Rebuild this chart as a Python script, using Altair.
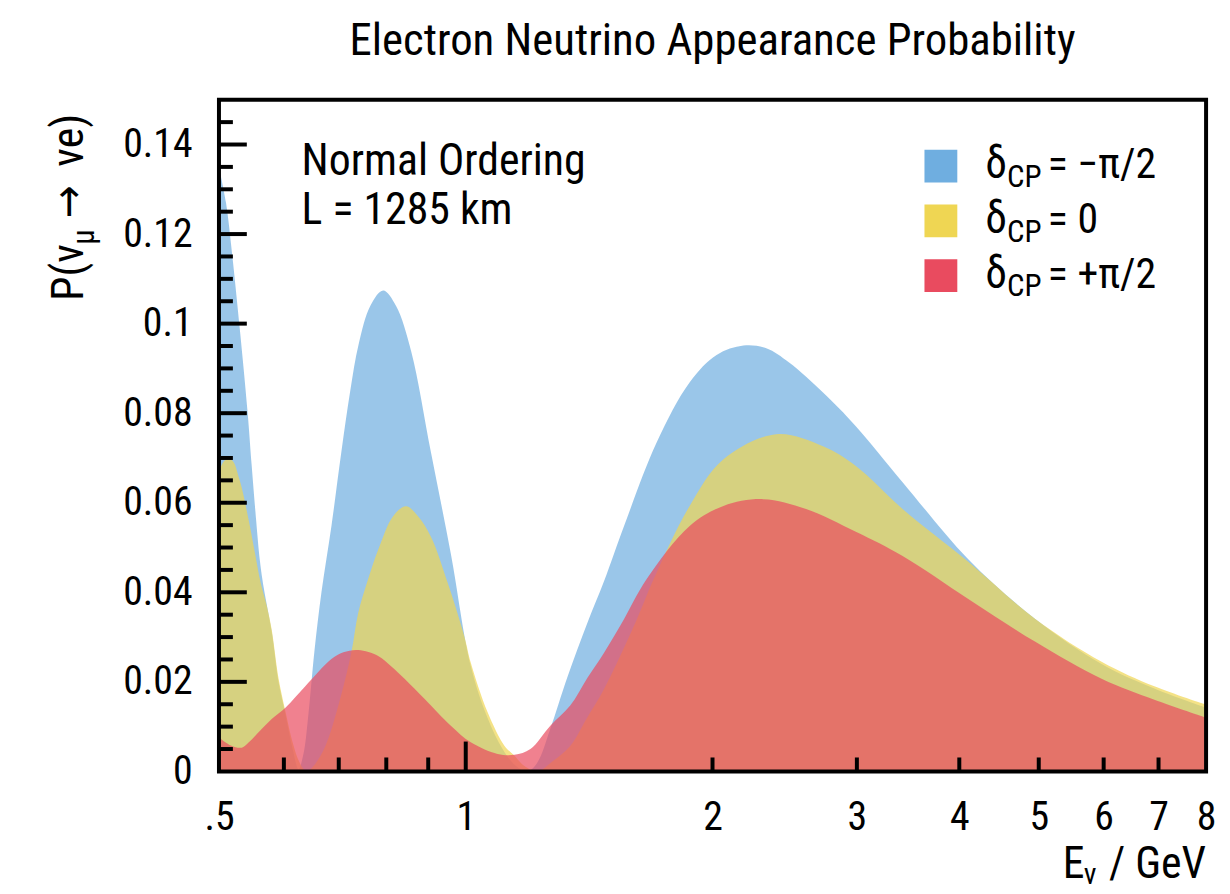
import altair as alt
import pandas as pd

# ---------------- data ----------------
series_names = ["δCP = −π/2", "δCP = 0", "δCP = +π/2"]
series_colors = ["#6FAEE0", "#EFD653", "#E94B5F"]

E_blue = [0.500, 0.510, 0.5185, 0.530, 0.542, 0.548, 0.5545, 0.561, 0.567, 0.580,
          0.591, 0.603, 0.615, 0.6253, 0.6341, 0.643, 0.6539, 0.6668, 0.686, 0.705,
          0.723, 0.740, 0.765, 0.793, 0.822, 0.858, 0.907, 0.959, 1.014, 1.063,
          1.109, 1.147, 1.189, 1.223, 1.268, 1.330, 1.406, 1.475, 1.560, 1.710,
          1.876, 2.023, 2.181, 2.326, 2.480, 2.728, 2.991, 3.411, 4.102, 4.947,
          5.965, 6.918, 8.0]
P_blue = [0.135, 0.127, 0.116, 0.099, 0.080, 0.0686, 0.057, 0.047, 0.041, 0.031,
          0.020, 0.0125, 0.005, 0.0005, 0.004, 0.013, 0.027, 0.040, 0.055, 0.0712,
          0.085, 0.0953, 0.104, 0.1074, 0.104, 0.0938, 0.0712, 0.0486, 0.0236, 0.012,
          0.005, 0.0015, 0.0, 0.002, 0.0095, 0.021, 0.033, 0.0425, 0.0548, 0.0735,
          0.0869, 0.093, 0.0951, 0.0945, 0.0913, 0.0846, 0.0771, 0.0646, 0.0474, 0.0341,
          0.0240, 0.0185, 0.0142]

E_yellow = [0.500, 0.5085, 0.5185, 0.530, 0.5437, 0.5529, 0.5623, 0.5718, 0.5798, 0.5913,
            0.603, 0.6149, 0.627, 0.6394, 0.6521, 0.6743, 0.6992, 0.7251, 0.7395, 0.7604,
            0.782, 0.8155, 0.8456, 0.8745, 0.9068, 0.951, 0.9972, 1.0141, 1.0634, 1.1152,
            1.1468, 1.1793, 1.2229, 1.2753, 1.3411, 1.4064, 1.4748, 1.6173, 1.696, 1.8757,
            2.0625, 2.3918, 2.7276, 2.9912, 3.4111, 4.1023, 4.9468, 5.9654, 6.9181, 8.0]
P_yellow = [0.067, 0.0695, 0.0695, 0.065, 0.056, 0.049, 0.042, 0.037, 0.0317, 0.0206,
            0.0132, 0.0065, 0.002, 0.0, 0.0012, 0.0057, 0.0147, 0.0265, 0.0355, 0.043,
            0.0495, 0.057, 0.0592, 0.057, 0.0524, 0.042, 0.0298, 0.0243, 0.0132, 0.0057,
            0.0035, 0.0012, 0.0, 0.0022, 0.0057, 0.012, 0.0184, 0.034, 0.043, 0.0593,
            0.0697, 0.0753, 0.0726, 0.0682, 0.0586, 0.0468, 0.0341, 0.0245, 0.019, 0.0149]

E_red = [0.500, 0.5171, 0.5332, 0.5437, 0.5607, 0.5798, 0.603, 0.6376, 0.6857, 0.7091,
         0.7395, 0.782, 0.8109, 0.8433, 0.8917, 0.959, 1.0141, 1.0936, 1.1468, 1.1992,
         1.2682, 1.3411, 1.4064, 1.4748, 1.5596, 1.6631, 1.8757, 2.0625, 2.3065, 2.6011,
         2.9912, 3.4111, 4.1023, 4.9468, 5.9654, 6.9181, 8.0]
P_red = [0.0076, 0.0058, 0.0053, 0.0065, 0.009, 0.0117, 0.0143, 0.0191, 0.0251, 0.0266,
         0.0271, 0.0258, 0.0235, 0.0206, 0.0161, 0.0102, 0.0065, 0.0039, 0.0037, 0.005,
         0.0102, 0.0147, 0.0208, 0.0265, 0.034, 0.043, 0.0548, 0.0593, 0.0608, 0.0586,
         0.0535, 0.0481, 0.0385, 0.029, 0.0207, 0.016, 0.012]

x_tick_values = [0.5, 1, 2, 3, 4, 5, 6, 7, 8]
y_tick_values = [0, 0.02, 0.04, 0.06, 0.08, 0.1, 0.12, 0.14]
x_major_ticks = [1]
x_minor_ticks = [0.6, 0.7, 0.8, 0.9, 2, 3, 4, 5, 6, 7]
y_major_ticks = [0.02, 0.04, 0.06, 0.08, 0.1, 0.12, 0.14]
y_minor_ticks = [0.005, 0.01, 0.015, 0.025, 0.03, 0.035, 0.045, 0.05, 0.055,
                 0.065, 0.07, 0.075, 0.085, 0.09, 0.095, 0.105, 0.11, 0.115,
                 0.125, 0.13, 0.135, 0.145]

title_text = "Electron Neutrino Appearance Probability"
note_lines = ["Normal Ordering", "L = 1285 km"]
legend_values = ["= −π/2", "= 0", "= +π/2"]

# ---------------- chart ----------------
W, H = 992, 675
FONT = "'Roboto Condensed', 'DejaVu Sans Condensed', 'Liberation Sans Narrow', sans-serif"

frames = []
for name, es, ps in zip(series_names, [E_blue, E_yellow, E_red], [P_blue, P_yellow, P_red]):
    frames.append(pd.DataFrame({"E": es, "P": ps, "series": name}))

xscale = alt.Scale(type="log", domain=[0.5, 8], nice=False)
yscale = alt.Scale(domain=[0, 0.15], nice=False, zero=True)

xaxis = alt.Axis(values=x_tick_values, ticks=False, tickSize=0, domain=False, grid=False,
                 labelExpr="datum.value < 1 ? '.5' : format(datum.value, 'd')",
                 labelFont=FONT, labelFontSize=40, labelColor="black", labelPadding=26,
                 labelOverlap=False, labelFlush=False, title=None)
yaxis = alt.Axis(values=y_tick_values, format="~g", ticks=False, tickSize=0, domain=False,
                 grid=False, labelFont=FONT, labelFontSize=40, labelColor="black",
                 labelPadding=27, title=None)

color = alt.Color("series:N", scale=alt.Scale(domain=series_names, range=series_colors),
                  legend=None)

layers = []
for df in frames:
    layers.append(
        alt.Chart(df).mark_area(opacity=0.7, interpolate="catmull-rom", clip=True).encode(
            x=alt.X("E:Q", scale=xscale, axis=xaxis),
            y=alt.Y("P:Q", scale=yscale, axis=yaxis, stack=None),
            color=color,
        )
    )

def yticks(vals, length):
    return alt.Chart(pd.DataFrame({"P": vals})).mark_rule(color="black", strokeWidth=4).encode(
        y=alt.Y("P:Q", scale=yscale, axis=yaxis), x=alt.value(0), x2=alt.value(length))

def xticks(vals, length):
    return alt.Chart(pd.DataFrame({"E": vals})).mark_rule(color="black", strokeWidth=4).encode(
        x=alt.X("E:Q", scale=xscale, axis=xaxis), y=alt.value(H), y2=alt.value(H - length))

layers += [yticks(y_major_ticks, 28), yticks(y_minor_ticks, 14),
           xticks(x_major_ticks, 30), xticks(x_minor_ticks, 14)]

one = pd.DataFrame({"a": [0]})

def txt(s, x, y, size, align="left", angle=0, baseline="alphabetic"):
    return alt.Chart(one).mark_text(font=FONT, fontSize=size, align=align, angle=angle,
                                    baseline=baseline, color="black").encode(
        x=alt.value(x), y=alt.value(y), text=alt.value(s))

# frame
layers.append(alt.Chart(one).mark_rect(filled=False, stroke="black", strokeWidth=4).encode(
    x=alt.value(0), x2=alt.value(W), y=alt.value(0), y2=alt.value(H)))

# title
layers.append(txt(title_text, W / 2, -45, 45, align="center"))
# annotation
layers.append(txt(note_lines[0], 83, 76, 44))
layers.append(txt(note_lines[1], 83, 125, 44))
# legend
for i, (c, v) in enumerate(zip(series_colors, legend_values)):
    yb = 78.7 + 55 * i
    layers.append(alt.Chart(one).mark_square(size=1089, filled=True, opacity=1, color=c).encode(
        x=alt.value(725.5), y=alt.value(yb - 12)))
    layers.append(txt("δ", 770, yb, 44))
    layers.append(txt("CP", 792, yb + 9, 31))
    layers.append(txt(v, 833, yb, 42))
# y title
layers.append(txt("P(ν", -137, 202, 44, angle=270))
layers.append(txt("μ", -126, 138, 31, align="center", angle=270))
layers.append(txt("→", -137, 119, 44, align="left", angle=270))
layers.append(txt("νe)", -137, 14, 44, align="right", angle=270))
# x title
layers.append(txt("E", 848, 782, 44))
layers.append(txt("ν", 869, 788, 30))
layers.append(txt("/ GeV", 992, 782, 44, align="right"))

chart = alt.layer(*layers).properties(
    width=W, height=H,
    autosize=alt.AutoSizeParams(type="none"),
    padding={"left": 212, "top": 90, "right": 16, "bottom": 120},
).configure_view(stroke=None).configure(background="white")

chart.save("out.html", embed_options={"renderer": "svg", "actions": False})
